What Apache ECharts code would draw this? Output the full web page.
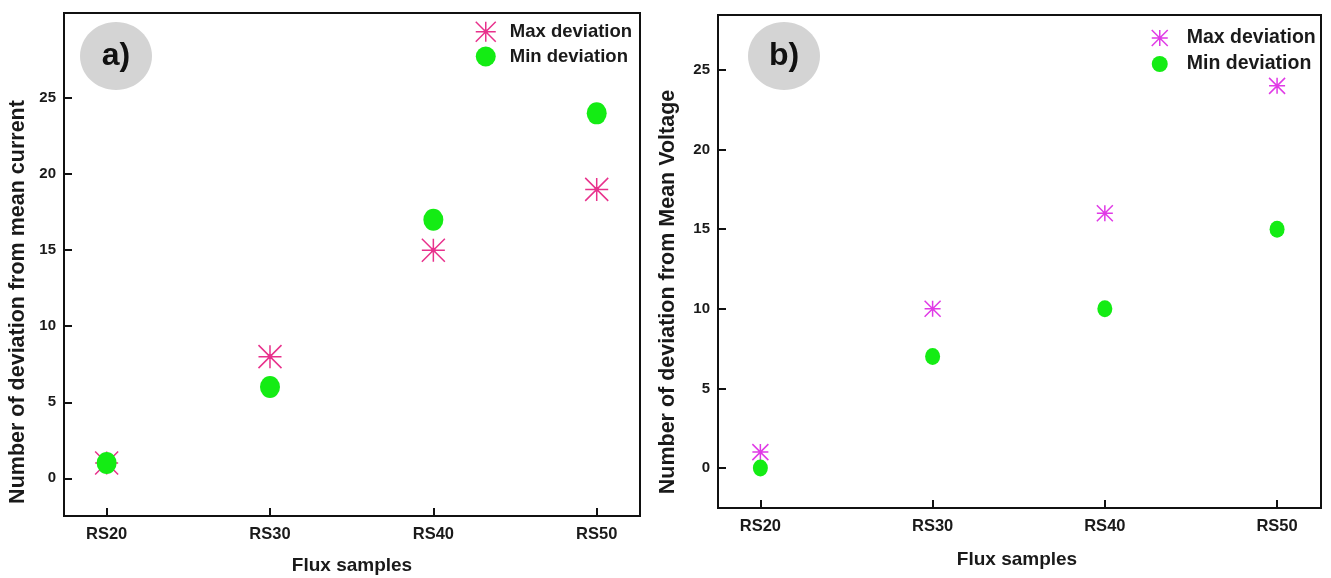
<!DOCTYPE html>
<html><head><meta charset="utf-8">
<script src="https://cdn.jsdelivr.net/npm/echarts@6/dist/echarts.min.js"></script>
<style>html,body{margin:0;padding:0;background:#fff}#c{width:1331px;height:578px}</style>
</head><body><div id="c"></div>
<script>
// ---- data ----
const categories = ['RS20', 'RS30', 'RS40', 'RS50'];
const yTicks = [0, 5, 10, 15, 20, 25];
const currentMax = [1, 8, 15, 19];   // panel a) Max deviation
const currentMin = [1, 6, 17, 24];   // panel a) Min deviation
const voltageMax = [1, 10, 16, 24];  // panel b) Max deviation
const voltageMin = [0, 7, 10, 15];   // panel b) Min deviation
const seriesNames = ['Max deviation', 'Min deviation'];
const xTitle = 'Flux samples';
const yTitleA = 'Number of deviation from mean current';
const yTitleB = 'Number of deviation from Mean Voltage';

// ---- styles ----
const FONT = "'Liberation Sans', Arial, sans-serif";
const TXT = '#1a1a1a';
const PINK = '#e8318c';
const VIOLET = '#e03ae6';
const GREEN = '#14ec14';
const STAR = 'path://M0,-10L0,10M-10,0L10,0M-10,-10L10,10M-10,10L10,-10M-1.6,0A1.6,1.6 0 1,0 1.6,0A1.6,1.6 0 1,0 -1.6,0Z';
const toPts = arr => arr.map((v, i) => [i, v]);

function xAxisFor(gi, min, max, margin) {
  return {
    gridIndex: gi, type: 'value', min: min, max: max,
    axisLine: { show: true, onZero: false, lineStyle: { color: '#111', width: 2 } },
    axisTick: { show: true, inside: true, length: 8, customValues: [0, 1, 2, 3], lineStyle: { color: '#111', width: 2 } },
    axisLabel: { customValues: [0, 1, 2, 3], formatter: v => categories[v], margin: margin,
      fontFamily: FONT, fontWeight: 'bold', fontSize: 16.5, color: TXT },
    splitLine: { show: false }
  };
}
function yAxisFor(gi, min, max) {
  return {
    gridIndex: gi, type: 'value', min: min, max: max,
    axisLine: { show: true, onZero: false, lineStyle: { color: '#111', width: 2 } },
    axisTick: { show: true, inside: true, length: 8, customValues: yTicks, lineStyle: { color: '#111', width: 2 } },
    axisLabel: { customValues: yTicks, margin: 8, fontFamily: FONT, fontWeight: 'bold', fontSize: 15, color: TXT },
    splitLine: { show: false }
  };
}
function starSeries(name, gi, data, color, size) {
  return { name: name, type: 'scatter', xAxisIndex: gi, yAxisIndex: gi, data: toPts(data),
    symbol: STAR, symbolSize: size, z: 2,
    itemStyle: { color: color, borderColor: color, borderWidth: 1.5, opacity: 1 } };
}
function dotSeries(name, gi, data, size) {
  return { name: name, type: 'scatter', xAxisIndex: gi, yAxisIndex: gi, data: toPts(data),
    symbol: 'circle', symbolSize: size, z: 3,
    itemStyle: { color: GREEN, opacity: 1 } };
}
function legendFor(left, top, gap, size, starColor, fs, pad) {
  return {
    orient: 'vertical', left: left, top: top, itemGap: gap, itemWidth: size, itemHeight: size,
    selectedMode: false,
    textStyle: { fontFamily: FONT, fontWeight: 'bold', fontSize: fs, color: TXT, padding: [0, 0, 0, pad] },
    data: [
      { name: seriesNames[0], icon: STAR, itemStyle: { color: starColor, borderColor: starColor, borderWidth: 1.5 } },
      { name: seriesNames[1], icon: 'circle', itemStyle: { color: GREEN, borderWidth: 0 } }
    ]
  };
}
function titleText(x, y, text, rot, fs) {
  return { type: 'text', x: x, y: y, rotation: rot, z: 10,
    style: { text: text, fontFamily: FONT, fontWeight: 'bold', fontSize: fs, fill: TXT, align: 'center', verticalAlign: 'middle' } };
}
function badge(cx, cy, label) {
  return [
    { type: 'ellipse', shape: { cx: cx, cy: cy, rx: 36, ry: 34 }, style: { fill: '#d4d4d4' }, z: 1 },
    { type: 'text', x: cx, y: cy, z: 2, style: { text: label, fontFamily: FONT, fontWeight: 'bold', fontSize: 32, fill: '#111', align: 'center', verticalAlign: 'middle' } }
  ];
}

const option = {
  backgroundColor: '#fff',
  animation: false,
  grid: [
    { left: 64, top: 13, width: 576, height: 503, show: true, borderColor: '#111', borderWidth: 2, backgroundColor: 'transparent' },
    { left: 718, top: 15, width: 603, height: 493, show: true, borderColor: '#111', borderWidth: 2, backgroundColor: 'transparent' }
  ],
  xAxis: [ xAxisFor(0, -0.261, 3.265, 10), xAxisFor(1, -0.246, 3.255, 10) ],
  yAxis: [ yAxisFor(0, -2.48, 30.6), yAxisFor(1, -2.51, 28.45) ],
  legend: [ legendFor(470, 16, 4, 20, PINK, 18.5, 9), legendFor(1146, 23, 6, 16, VIOLET, 19.5, 14) ],
  graphic: [
    ...badge(116, 56, 'a)'),
    ...badge(784, 56, 'b)'),
    titleText(18, 302, yTitleA, Math.PI / 2, 21.5),
    titleText(668, 292, yTitleB, Math.PI / 2, 21.5),
    titleText(352, 566, xTitle, 0, 19),
    titleText(1017, 560, xTitle, 0, 19)
  ],
  series: [
    starSeries(seriesNames[0], 0, currentMax, PINK, 23),
    dotSeries(seriesNames[1], 0, currentMin, [20, 22]),
    starSeries(seriesNames[0], 1, voltageMax, VIOLET, 16),
    dotSeries(seriesNames[1], 1, voltageMin, [15, 17])
  ]
};
const chart = echarts.init(document.getElementById('c'), null, { renderer: 'canvas' });
chart.setOption(option);
</script>
</body></html>
